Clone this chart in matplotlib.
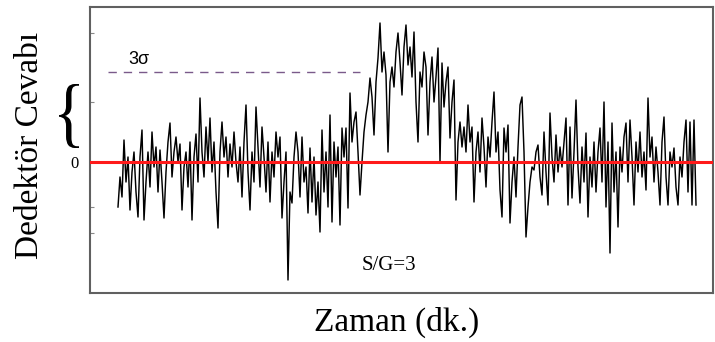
import matplotlib
matplotlib.use("Agg")
import matplotlib.pyplot as plt
import numpy as np
from matplotlib.textpath import TextPath
from matplotlib.font_manager import FontProperties
from matplotlib.patches import PathPatch
from matplotlib.transforms import Affine2D, IdentityTransform

# Detector response (arbitrary units, 0 = baseline), one sample per time step
signal = [
    -45, -15, -35, 22, -20, 5, -48, -10, 10, -30,
    -55, 5, 32, -58, -20, 10, -25, 30, -5, 15,
    -30, 12, -20, -56, -10, 20, 39, -15, 10, 25,
    0, 18, -48, -5, 10, -25, 20, -58, 5, 28,
    -20, 64, 10, -15, 35, 0, 44, -10, 20, -30,
    -66, 10, 40, 5, 25, -15, 18, -5, 30, 0,
    -20, 15, -35, 20, 57, -10, -48, 10, -20, 55,
    15, -25, 35, 5, -30, 20, -40, 10, -15, 30,
    5, 25, -56, -20, 10, -118, -30, -41, 5, 30,
    10, -35, 25, -20, -5, -51, 14, -40, 5, -53,
    -20, -70, 32, -30, 10, -45, 47, -60, 20, -15,
    15, -63, 34, 5, 34, -46, 69, 20, 40, 50,
    10, -33, 0, 30, 47, 60, 84, 65, 27, 80,
    104, 139, 90, 110, 87, 10, 80, 95, 75, 110,
    129, 100, 67, 115, 137, 97, 115, 85, 130, 60,
    20, 90, 75, 110, 95, 27, 80, 105, 60, 85,
    114, 0, 99, 55, 80, 95, 24, 60, 82, -38,
    20, 40, 15, 35, 10, 57, 20, 35, -40, 10,
    30, -10, 44, 15, -25, 25, 5, 40, 70, 10,
    30, -28, -55, 34, 10, 37, -61, -20, 5, -35,
    15, 57, 65, 10, -75, -45, -20, -5, -8, 10,
    17, -15, -33, 30, -10, -43, 49, 5, -20, 27,
    -10, 15, -5, 20, 44, -43, 35, -36, 10, 62,
    -5, -41, 15, -20, 29, -55, 5, -25, 20, -30,
    10, 34, -20, 60, -45, 20, -91, 39, -30, 10,
    -65, 15, -10, 25, 39, -20, 42, 5, -43, 20,
    -10, 30, -15, 10, -28, 64, 5, 25, -20, 15,
    -10, -43, 20, 45, -15, -43, 10, -5, 14, -25,
    -43, 5, -15, 20, 42, -30, 40, -43, 42, -43,
]
three_sigma = 90
sigma_line_span = [-5, 121]

W, H = 715, 342
fig = plt.figure(figsize=(W / 100, H / 100), dpi=100)
ax = fig.add_axes([90 / W, 1 - 293 / H, (713 - 90) / W, (293 - 7) / H])

t = np.arange(len(signal))
ax.plot(t, signal, color="black", lw=1.05, zorder=3)
ax.axhline(0, color="#ff1a1a", lw=2.2, zorder=4)
ax.plot(sigma_line_span, [three_sigma, three_sigma], color="#7a5a8a", lw=1.0,
        dashes=(6, 5))

ax.set_xlim(-14, 297.5)
ax.set_ylim(-131, 155)
ax.set_xticks([])
ax.set_yticks([129, 60, 0, -45, -71])
ax.set_yticklabels(["", "", "0", "", ""], family="Liberation Serif", fontsize=12)
ax.tick_params(axis="y", direction="in", length=3, color="#888888", pad=8)
for s in ax.spines.values():
    s.set_color("#606060")
    s.set_linewidth(1.5)

serif = "Liberation Serif"
ax.text(5, 102, "3σ", family="Liberation Sans", fontsize=13, ha="left", va="center")
ax.text(122, -103, "S/G=3", family=serif, fontsize=15, ha="left", va="center")

fig.text(30 / W, 1 - 145 / H, "Dedektör Cevabı", family=serif, fontsize=24,
         rotation=90, ha="center", va="center")
fig.text(397 / W, 1 - 322 / H, "Zaman (dk.)", family=serif, fontsize=24,
         ha="center", va="center")

# curly brace stretched to fill its box (pixel coords)
bp = TextPath((0, 0), "{", size=40, prop=FontProperties(family=serif))
ext = bp.get_extents()
x0, x1, ytop, ybot = 59, 79, 84, 148
sx = (x1 - x0) / ext.width
sy = (ybot - ytop) / ext.height
tr = Affine2D().translate(-ext.x0, -ext.y0).scale(sx, sy).translate(x0, H - ybot)
brace = PathPatch(tr.transform_path(bp), facecolor="black", edgecolor="none",
                  transform=IdentityTransform())
fig.patches.append(brace)

fig.savefig("out.png", dpi=100)
